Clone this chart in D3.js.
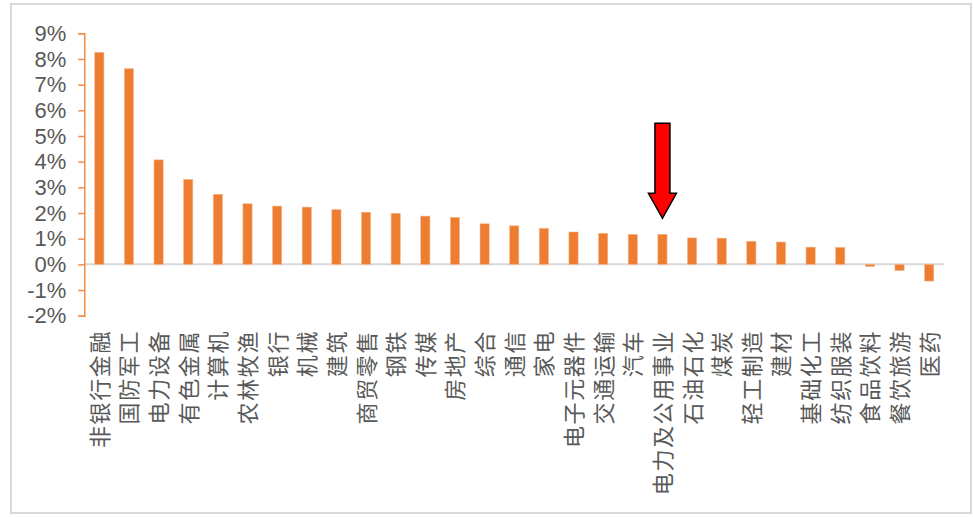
<!DOCTYPE html>
<html>
<head>
<meta charset="utf-8">
<script src="https://cdn.jsdelivr.net/npm/d3@7"></script>
<style>
  body { margin: 0; background: #fff; }
  svg { display: block; }
  .tick-y text { font-family: "Liberation Sans Narrow", "Liberation Sans", Arial, sans-serif; font-size: 22px; fill: #595959; }
  .cat text { font-family: "Noto Sans CJK SC", sans-serif; font-size: 22px; fill: #595959; }
</style>
</head>
<body>
<svg id="chart" width="973" height="517"></svg>
<script>
// industries, sorted by return
var categories = ["非银行金融", "国防军工", "电力设备", "有色金属", "计算机", "农林牧渔", "银行", "机械",
	"建筑", "商贸零售", "钢铁", "传媒", "房地产", "综合", "通信", "家电", "电子元器件", "交通运输",
	"汽车", "电力及公用事业", "石油石化", "煤炭", "轻工制造", "建材", "基础化工", "纺织服装",
	"食品饮料", "餐饮旅游", "医药"];
// return, %
var values = [8.26, 7.62, 4.07, 3.31, 2.73, 2.36, 2.27, 2.23,
	2.13, 2.03, 1.99, 1.88, 1.83, 1.58, 1.50, 1.40, 1.26, 1.21,
	1.17, 1.17, 1.03, 1.02, 0.90, 0.87, 0.67, 0.66,
	-0.08, -0.24, -0.65];
var yTicks = [-2, -1, 0, 1, 2, 3, 4, 5, 6, 7, 8, 9];
var highlight = "电力及公用事业";

var svg = d3.select("#chart");

// outer frame
svg.append("rect")
	.attr("x", 11).attr("y", 4)
	.attr("width", 960).attr("height", 509)
	.attr("fill", "none")
	.attr("stroke", "#d9d9d9")
	.attr("stroke-width", 2);

var x = d3.scaleBand()
	.domain(categories)
	.range([84.5, 944])
	.paddingInner(0.69)
	.paddingOuter(0.345);

var y = d3.scaleLinear()
	.domain([-2, 9])
	.range([315.7, 33.3]);

// zero line
svg.append("line")
	.attr("x1", 84.5).attr("x2", 944)
	.attr("y1", y(0)).attr("y2", y(0))
	.attr("stroke", "#d9d9d9")
	.attr("stroke-width", 2);

// bars
svg.append("g").selectAll("rect")
	.data(values)
	.enter().append("rect")
	.attr("x", function(d, i) { return x(categories[i]); })
	.attr("width", x.bandwidth())
	.attr("y", function(d) { return d >= 0 ? y(d) : y(0); })
	.attr("height", function(d) { return Math.abs(y(d) - y(0)); })
	.attr("fill", "#ed7d31")
	.attr("stroke", "#f6b68a")
	.attr("stroke-width", 0.6);

// y axis
var yAxis = d3.axisLeft(y)
	.tickValues(yTicks)
	.tickSize(6)
	.tickPadding(12)
	.tickFormat(function(d) { return d + "%"; });

var ya = svg.append("g")
	.attr("class", "tick-y")
	.attr("transform", "translate(84.3,0)")
	.call(yAxis);
ya.select(".domain").attr("stroke", "#f08c46").attr("stroke-width", 1.5);
ya.selectAll(".tick line").attr("stroke", "#f08c46").attr("stroke-width", 1.5);

// category labels, rotated
svg.append("g")
	.attr("class", "cat")
	.selectAll("text")
	.data(categories)
	.enter().append("text")
	.attr("transform", function(d) {
		return "translate(" + (x(d) + x.bandwidth() / 2 + 8.5) + ",330) rotate(-90)";
	})
	.attr("text-anchor", "end")
	.attr("letter-spacing", 1.6)
	.text(function(d) { return d; });

// red arrow pointing at the highlighted bar
var ax = x(highlight) + x.bandwidth() / 2;
var arrowTip = 218.3, arrowTop = 123.3, arrowNeck = 193.3;
var arrow = d3.path();
arrow.moveTo(ax - 7.5, arrowTop);
arrow.lineTo(ax + 7.5, arrowTop);
arrow.lineTo(ax + 7.5, arrowNeck);
arrow.lineTo(ax + 14, arrowNeck);
arrow.lineTo(ax, arrowTip);
arrow.lineTo(ax - 14, arrowNeck);
arrow.lineTo(ax - 7.5, arrowNeck);
arrow.closePath();
svg.append("path")
	.attr("d", arrow.toString())
	.attr("fill", "#ff0000")
	.attr("stroke", "#000")
	.attr("stroke-width", 1.5)
	.attr("stroke-linejoin", "miter");
</script>
</body>
</html>
